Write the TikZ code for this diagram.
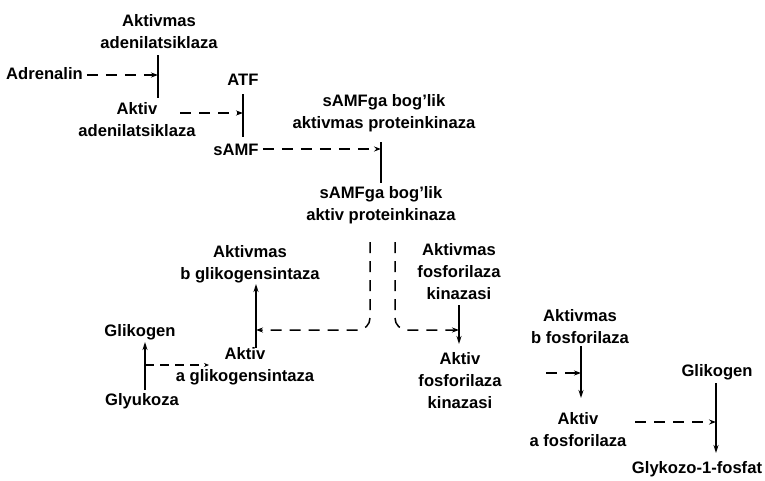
\documentclass[tikz,border=0pt]{standalone}
\usepackage{fontspec}
\setmainfont{Liberation Sans}
\usetikzlibrary{arrows.meta}
\tikzset{
  lbl/.style={align=center, inner sep=0pt, font=\bfseries\fontsize{16.6}{22}\selectfont},
  bar/.style={line width=1.8pt},
  react/.style={line width=1.8pt, -{Stealth[length=8pt,width=5pt]}},
  cat/.style={line width=1.5pt, dash pattern=on 11pt off 8pt, -{Stealth[length=7pt,width=5pt]}}
}
\begin{document}
\begin{tikzpicture}[x=1pt,y=-1pt]
\useasboundingbox (0,0) rectangle (765,480);
% nodes
\node[lbl] (adc1) at (159,32) {Aktivmas\\adenilatsiklaza};
\node[lbl, anchor=west] (adr) at (6,74) {Adrenalin};
\node[lbl] (adc2) at (137,120) {Aktiv\\adenilatsiklaza};
\node[lbl] (atf) at (243,80) {ATF};
\node[lbl] (samf) at (236,150) {sAMF};
\node[lbl] (pk1) at (384,113) {sAMFga bog’lik\\aktivmas proteinkinaza};
\node[lbl] (pk2) at (381,205) {sAMFga bog’lik\\aktiv proteinkinaza};
\node[lbl] (gs1) at (250,264) {Aktivmas\\b glikogensintaza};
\node[lbl] (gs2) at (245,366) {Aktiv\\a glikogensintaza};
\node[lbl] (glk1) at (140,332) {Glikogen};
\node[lbl] (glu) at (142,401) {Glyukoza};
\node[lbl] (fk1) at (459,272) {Aktivmas\\fosforilaza\\kinazasi};
\node[lbl] (fk2) at (460,381) {Aktiv\\fosforilaza\\kinazasi};
\node[lbl] (fb) at (580,327) {Aktivmas\\b fosforilaza};
\node[lbl] (fa) at (578,430) {Aktiv\\a fosforilaza};
\node[lbl] (glk2) at (717,372) {Glikogen};
\node[lbl] (g1p) at (697,469) {Glykozo-1-fosfat};
% coordinates
\coordinate (b1t) at (158,55);  \coordinate (b1b) at (158,98);  \coordinate (b1m) at (158,75);
\coordinate (b2t) at (243,94);  \coordinate (b2b) at (243,137); \coordinate (b2m) at (243,113);
\coordinate (c2s) at (180,113);
\coordinate (b3t) at (381,142); \coordinate (b3b) at (381,183); \coordinate (b3m) at (381,149);
\coordinate (dl) at (370,242);  \coordinate (dlc) at (370,330); \coordinate (dle) at (256,330);
\coordinate (dr) at (395,242);  \coordinate (drc) at (395,330); \coordinate (dre) at (459,330);
\coordinate (gsb) at (256,348); \coordinate (gst) at (256,284);
\coordinate (gvb) at (145,390); \coordinate (gvt) at (145,342); \coordinate (gvm) at (145,365);
\coordinate (gde) at (209,365);
\coordinate (fkt) at (459,305); \coordinate (fkb) at (459,344);
\coordinate (fbt) at (581,346); \coordinate (fbb) at (581,398); \coordinate (fbm) at (581,373);
\coordinate (fbs) at (546,373);
\coordinate (gkt) at (716,383); \coordinate (gkb) at (716,453); \coordinate (gkm) at (716,422);
\coordinate (fas) at (635,422);
% reactions
\draw[bar] (b1t) -- (b1b);
\draw[cat] (adr.east) ++(4,1) -- (b1m);
\draw[bar] (b2t) -- (b2b);
\draw[cat] (c2s) -- (b2m);
\draw[bar] (b3t) -- (b3b);
\draw[cat] (samf.east) ++(4,-1) -- (b3m);
\draw[cat, rounded corners=12pt] (dl) -- (dlc) -- (dle);
\draw[cat, rounded corners=12pt] (dr) -- (drc) -- (dre);
\draw[react] (gsb) -- (gst);
\draw[react] (gvb) -- (gvt);
\draw[line width=1.3pt, dash pattern=on 9pt off 6pt, -{Stealth[length=5pt,width=4pt]}] (gvm) -- (gde);
\draw[react] (fkt) -- (fkb);
\draw[react] (fbt) -- (fbb);
\draw[cat] (fbs) -- (fbm);
\draw[react] (gkt) -- (gkb);
\draw[cat] (fas) -- (gkm);
\end{tikzpicture}
\end{document}
